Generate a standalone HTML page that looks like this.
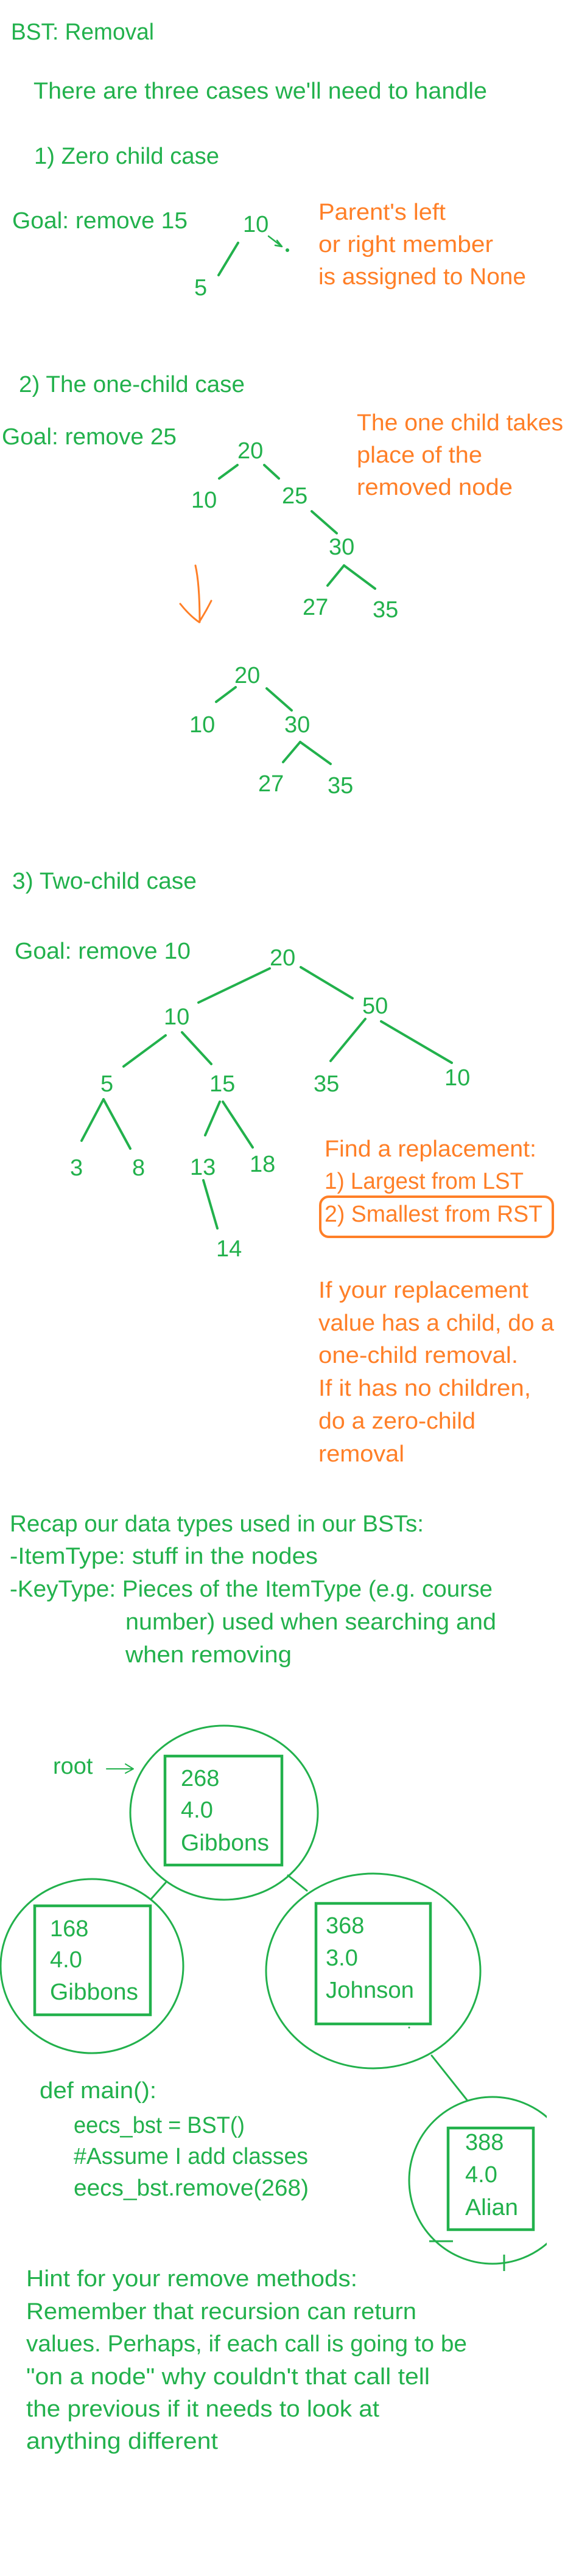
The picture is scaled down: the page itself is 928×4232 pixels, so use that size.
<!DOCTYPE html>
<html><head><meta charset="utf-8"><style>
html,body{margin:0;padding:0;background:#fff;}
svg{display:block;}
text{font-family:"Liberation Sans",sans-serif;font-size:38px;}
.g{fill:#22b14c;} .o{fill:#ff7f27;}
</style></head><body>
<svg width="928" height="4232" viewBox="0 0 928 4232" xmlns="http://www.w3.org/2000/svg">
<defs><clipPath id="cp"><rect x="0" y="0" width="898" height="4232"/></clipPath></defs>
<g class="g">
<text x="18" y="65" textLength="235" lengthAdjust="spacingAndGlyphs">BST: Removal</text>
<text x="55" y="162" textLength="745" lengthAdjust="spacingAndGlyphs">There are three cases we'll need to handle</text>
<text x="56" y="269" textLength="304" lengthAdjust="spacingAndGlyphs">1) Zero child case</text>
<text x="20" y="375" textLength="288" lengthAdjust="spacingAndGlyphs">Goal: remove 15</text>
<text x="399" y="381">10</text>
<text x="319" y="485">5</text>
<text x="31" y="644" textLength="371" lengthAdjust="spacingAndGlyphs">2) The one-child case</text>
<text x="3" y="730" textLength="287" lengthAdjust="spacingAndGlyphs">Goal: remove 25</text>
<text x="390" y="753">20</text>
<text x="314" y="834">10</text>
<text x="463" y="827">25</text>
<text x="540" y="911">30</text>
<text x="497" y="1010">27</text>
<text x="612" y="1014">35</text>
<text x="385" y="1122">20</text>
<text x="311" y="1203">10</text>
<text x="467" y="1203">30</text>
<text x="424" y="1300">27</text>
<text x="538" y="1303">35</text>

<text x="20" y="1460" textLength="303" lengthAdjust="spacingAndGlyphs">3) Two-child case</text>
<text x="24" y="1575" textLength="289" lengthAdjust="spacingAndGlyphs">Goal: remove 10</text>
<text x="443" y="1586">20</text>
<text x="269" y="1683">10</text>
<text x="595" y="1665">50</text>
<text x="165" y="1793">5</text>
<text x="344" y="1793">15</text>
<text x="515" y="1793">35</text>
<text x="730" y="1783">10</text>
<text x="115" y="1931">3</text>
<text x="217" y="1931">8</text>
<text x="312" y="1930">13</text>
<text x="410" y="1925">18</text>
<text x="355" y="2064">14</text>

<text x="16" y="2516" textLength="680" lengthAdjust="spacingAndGlyphs">Recap our data types used in our BSTs:</text>
<text x="16" y="2569" textLength="506" lengthAdjust="spacingAndGlyphs">-ItemType: stuff in the nodes</text>
<text x="16" y="2623" textLength="793" lengthAdjust="spacingAndGlyphs">-KeyType: Pieces of the ItemType (e.g. course</text>
<text x="206" y="2677" textLength="609" lengthAdjust="spacingAndGlyphs">number) used when searching and</text>
<text x="206" y="2731" textLength="273" lengthAdjust="spacingAndGlyphs">when removing</text>

<text x="87" y="2914">root</text>
<text x="297" y="2934">268</text>
<text x="297" y="2986">4.0</text>
<text x="297" y="3040" textLength="145" lengthAdjust="spacingAndGlyphs">Gibbons</text>
<text x="82" y="3181">168</text>
<text x="82" y="3232">4.0</text>
<text x="82" y="3285" textLength="145" lengthAdjust="spacingAndGlyphs">Gibbons</text>
<text x="535" y="3176">368</text>
<text x="535" y="3229">3.0</text>
<text x="535" y="3282" textLength="145" lengthAdjust="spacingAndGlyphs">Johnson</text>
<text x="764" y="3532">388</text>
<text x="764" y="3585">4.0</text>
<text x="764" y="3639" textLength="87" lengthAdjust="spacingAndGlyphs">Alian</text>

<text x="65" y="3447" textLength="192" lengthAdjust="spacingAndGlyphs">def main():</text>
<text x="121" y="3504" textLength="281" lengthAdjust="spacingAndGlyphs">eecs_bst = BST()</text>
<text x="121" y="3555" textLength="385" lengthAdjust="spacingAndGlyphs">#Assume I add classes</text>
<text x="121" y="3607" textLength="386" lengthAdjust="spacingAndGlyphs">eecs_bst.remove(268)</text>

<text x="43" y="3756" textLength="544" lengthAdjust="spacingAndGlyphs">Hint for your remove methods:</text>
<text x="43" y="3810" textLength="641" lengthAdjust="spacingAndGlyphs">Remember that recursion can return</text>
<text x="43" y="3863" textLength="724" lengthAdjust="spacingAndGlyphs">values. Perhaps, if each call is going to be</text>
<text x="43" y="3917" textLength="663" lengthAdjust="spacingAndGlyphs">"on a node" why couldn't that call tell</text>
<text x="43" y="3970" textLength="580" lengthAdjust="spacingAndGlyphs">the previous if it needs to look at</text>
<text x="43" y="4023" textLength="315" lengthAdjust="spacingAndGlyphs">anything different</text>
</g>

<g class="o">
<text x="523" y="361" textLength="209" lengthAdjust="spacingAndGlyphs">Parent's left</text>
<text x="523" y="414" textLength="287" lengthAdjust="spacingAndGlyphs">or right member</text>
<text x="523" y="467" textLength="341" lengthAdjust="spacingAndGlyphs">is assigned to None</text>
<text x="586" y="707" textLength="339" lengthAdjust="spacingAndGlyphs">The one child takes</text>
<text x="586" y="760" textLength="206" lengthAdjust="spacingAndGlyphs">place of the</text>
<text x="586" y="813" textLength="256" lengthAdjust="spacingAndGlyphs">removed node</text>
<text x="533" y="1900" textLength="348" lengthAdjust="spacingAndGlyphs">Find a replacement:</text>
<text x="533" y="1953" textLength="327" lengthAdjust="spacingAndGlyphs">1) Largest from LST</text>
<text x="533" y="2007" textLength="358" lengthAdjust="spacingAndGlyphs">2) Smallest from RST</text>
<text x="523" y="2132" textLength="345" lengthAdjust="spacingAndGlyphs">If your replacement</text>
<text x="523" y="2186" textLength="387" lengthAdjust="spacingAndGlyphs">value has a child, do a</text>
<text x="523" y="2239" textLength="328" lengthAdjust="spacingAndGlyphs">one-child removal.</text>
<text x="523" y="2293" textLength="349" lengthAdjust="spacingAndGlyphs">If it has no children,</text>
<text x="523" y="2347" textLength="258" lengthAdjust="spacingAndGlyphs">do a zero-child</text>
<text x="523" y="2401" textLength="141" lengthAdjust="spacingAndGlyphs">removal</text>
</g>

<g stroke="#22b14c" stroke-width="4" fill="none" stroke-linecap="round">
<line x1="391" y1="399" x2="359" y2="452"/>
<path d="M441 388 L463 405 M463 405 L455 395 M463 405 L452 403" stroke-width="2.5"/>
<line x1="390" y1="764" x2="360" y2="786"/>
<line x1="434" y1="764" x2="458" y2="786"/>
<line x1="512" y1="840" x2="553" y2="876"/>
<line x1="565" y1="929" x2="538" y2="962"/>
<line x1="565" y1="929" x2="616" y2="967"/>
<line x1="387" y1="1129" x2="355" y2="1153"/>
<line x1="438" y1="1131" x2="479" y2="1167"/>
<line x1="493" y1="1219" x2="465" y2="1252"/>
<line x1="493" y1="1219" x2="543" y2="1255"/>

<line x1="326" y1="1647" x2="443" y2="1591"/>
<line x1="494" y1="1589" x2="579" y2="1640"/>
<line x1="272" y1="1701" x2="203" y2="1752"/>
<line x1="299" y1="1696" x2="347" y2="1748"/>
<line x1="600" y1="1674" x2="543" y2="1743"/>
<line x1="626" y1="1678" x2="742" y2="1746"/>
<line x1="170" y1="1806" x2="134" y2="1874"/>
<line x1="170" y1="1806" x2="214" y2="1887"/>
<line x1="361" y1="1810" x2="337" y2="1865"/>
<line x1="366" y1="1810" x2="415" y2="1885"/>
<line x1="334" y1="1939" x2="357" y2="2018"/>

<path d="M175 2906 L219 2906 M219 2906 L206 2898 M219 2906 L206 2913" stroke-width="2"/>
<ellipse cx="368" cy="2978" rx="154" ry="143" stroke-width="3"/>
<rect x="271" y="2885" width="192" height="179" stroke-width="4.5"/>
<ellipse cx="151" cy="3230" rx="150" ry="143" stroke-width="3"/>
<rect x="57" y="3131" width="190" height="179" stroke-width="4.5"/>
<line x1="272" y1="3093" x2="248" y2="3120" stroke-width="3"/>
<ellipse cx="613" cy="3238" rx="176" ry="160" stroke-width="3"/>
<rect x="519" y="3127" width="188" height="198" stroke-width="4.5"/>
<line x1="473" y1="3081" x2="504" y2="3106" stroke-width="3"/>
<line x1="709" y1="3377" x2="767" y2="3450" stroke-width="3"/>
<g clip-path="url(#cp)"><ellipse cx="809" cy="3582" rx="137" ry="137" stroke-width="3"/></g>
<rect x="736" y="3496" width="140" height="167" stroke-width="4.5"/>
<line x1="705" y1="3682" x2="744" y2="3682" stroke-width="3" stroke-linecap="butt"/>
<line x1="828" y1="3704" x2="828" y2="3731" stroke-width="3" stroke-linecap="butt"/>
</g>
<circle cx="472" cy="411" r="3" fill="#22b14c"/>
<circle cx="672" cy="3331" r="1.5" fill="#22b14c"/>

<g stroke="#ff7f27" stroke-width="3" fill="none" stroke-linecap="round">
<path d="M321 929 Q328 960 328 1022 M296 992 Q312 1012 327 1022 Q338 1005 347 987"/>
<rect x="526" y="1966" width="382" height="66" rx="14" ry="14" stroke-width="4"/>
</g>
</svg>
</body></html>
